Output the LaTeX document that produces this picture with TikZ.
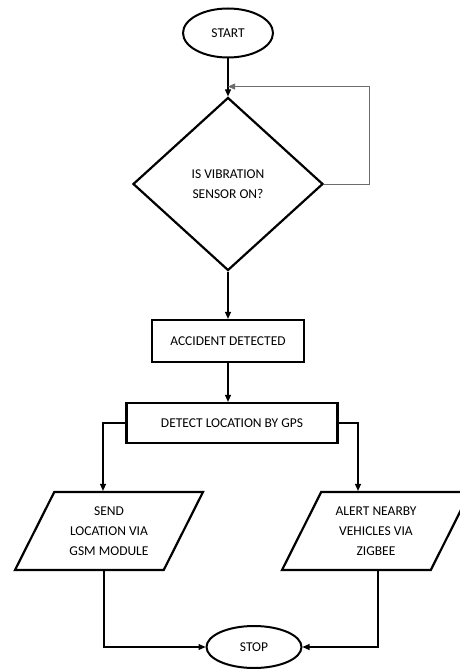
\documentclass[tikz,border=0pt]{standalone}
\usepackage{fontspec}
\setmainfont{Carlito}
\usepackage{tikz}
\usetikzlibrary{shapes.geometric, arrows.meta, positioning, calc}

\tikzset{
  term/.style={ellipse, draw, line width=2pt, inner sep=0pt},
  procbox/.style={rectangle, draw, line width=2.2pt, inner sep=0pt},
  decide/.style={diamond, draw, line width=2.2pt, inner sep=0pt, align=center,
    minimum width=190, minimum height=173},
  iobox/.style={trapezium, trapezium left angle=51.2, trapezium right angle=128.8,
    trapezium stretches body, draw, line width=2.2pt, inner sep=0pt, align=center,
    minimum width=188, minimum height=78},
  flow/.style={-{Triangle[length=7pt,width=6pt]}, line width=1.1pt},
}

\begin{document}
\begin{tikzpicture}[x=1pt, y=-1pt, font=\fontsize{13.5}{20}\selectfont]

  \useasboundingbox (0,0) rectangle (460,669);

  %% Nodes
  \node[term, minimum width=90, minimum height=49] (start) at (228,33) {START};
  \node[decide] (dec) at (228,184) {IS VIBRATION\\SENSOR ON?};
  \node[procbox, minimum width=152, minimum height=42] (acc) at (228,341) {ACCIDENT DETECTED};
  \node[procbox, minimum width=211, minimum height=40] (gps) at (232,423) {DETECT LOCATION BY GPS};
  \node[iobox] (send) at (109,531) {SEND\\LOCATION VIA\\GSM MODULE};
  \node[iobox] (alert) at (376,531) {ALERT NEARBY\\VEHICLES VIA\\ZIGBEE};
  \node[term, minimum width=95, minimum height=42] (stop) at (254,647) {STOP};

  %% Connectors
  \coordinate (join) at ($(start.south)!0.74!(dec.north)$);
  \draw[flow] (start) -- (dec);
  \draw[flow, gray!85!black, line width=0.9pt] (dec.east) -- ++(45,0) |- (join);
  \draw[flow] (dec.south) -- (acc.north);
  \draw[flow] (acc.south) -- (acc.south |- gps.north);
  \draw[flow] (gps.west) -| ([xshift=-6]send.north);
  \draw[flow] (gps.east) -| ([xshift=-18]alert.north);
  \draw[flow] ([xshift=-5]send.south) |- (stop.west);
  \draw[flow] ([xshift=2]alert.south) |- (stop.east);

\end{tikzpicture}
\end{document}
